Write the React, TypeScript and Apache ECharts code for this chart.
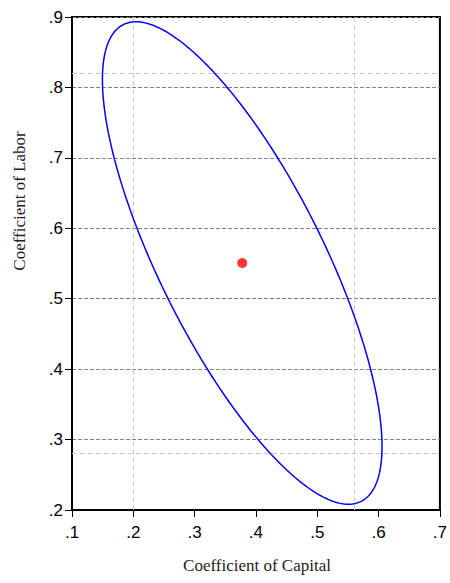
import React, { useEffect, useRef } from "react";
import * as echarts from "echarts";

// Estimated coefficients (Capital, Labor)
const pointEstimate: [number, number] = [0.3776, 0.5507];
// Joint confidence ellipse: half-extents along each axis and correlation
const ellipseHalfExtent: [number, number] = [0.228, 0.3425];
const ellipseCorrelation = -0.76;
// Individual confidence intervals
const capitalInterval = [0.199, 0.556];
const laborInterval = [0.281, 0.82];
// Axes
const xTicks = [0.1, 0.2, 0.3, 0.4, 0.5, 0.6, 0.7];
const yTicks = [0.2, 0.3, 0.4, 0.5, 0.6, 0.7, 0.8, 0.9];

function ellipsePoints(): [number, number][] {
  const pts: [number, number][] = [];
  const n = 360;
  const s = Math.sqrt(1 - ellipseCorrelation * ellipseCorrelation);
  for (let i = 0; i <= n; i++) {
    const t = (2 * Math.PI * i) / n;
    const x = pointEstimate[0] + ellipseHalfExtent[0] * Math.cos(t);
    const y =
      pointEstimate[1] +
      ellipseHalfExtent[1] * (ellipseCorrelation * Math.cos(t) + s * Math.sin(t));
    pts.push([x, y]);
  }
  return pts;
}

const fmt = (v: number) => v.toFixed(1).replace(/^0/, "");

export default function App() {
  const ref = useRef<HTMLDivElement>(null);
  useEffect(() => {
    if (!ref.current) return;
    const chart = echarts.init(ref.current, null, { renderer: "svg" });
    const tickFont = { fontFamily: "Liberation Sans", fontSize: 17, color: "#000" };
    chart.setOption({
      animation: false,
      backgroundColor: "#fff",
      grid: {
        left: 72,
        right: 8,
        top: 17,
        bottom: 73,
        show: true,
        borderColor: "#000",
        borderWidth: 2,
        backgroundColor: "transparent",
      },
      xAxis: {
        type: "value",
        min: xTicks[0],
        max: xTicks[xTicks.length - 1],
        interval: 0.1,
        axisLine: { show: true, lineStyle: { color: "#000", width: 2 } },
        axisTick: { show: true, inside: false, length: 7, lineStyle: { color: "#000", width: 1 } },
        axisLabel: { ...tickFont, margin: 14, formatter: fmt },
        splitLine: { show: false },
      },
      yAxis: {
        type: "value",
        min: yTicks[0],
        max: yTicks[yTicks.length - 1],
        interval: 0.1,
        axisLine: { show: true, lineStyle: { color: "#000", width: 2 } },
        axisTick: { show: true, inside: false, length: 7, lineStyle: { color: "#000", width: 1 } },
        axisLabel: { ...tickFont, margin: 9, formatter: fmt },
        splitLine: {
          show: true,
          lineStyle: { color: "#808080", type: [4, 2], width: 1 },
        },
      },
      graphic: [
        {
          type: "text",
          x: 257,
          y: 565,
          style: {
            text: "Coefficient of Capital",
            font: "17px 'Liberation Serif'",
            fill: "#222",
            textAlign: "center",
            textVerticalAlign: "middle",
          },
        },
        {
          type: "text",
          x: 19,
          y: 201,
          rotation: Math.PI / 2,
          style: {
            text: "Coefficient of Labor",
            font: "17px 'Liberation Serif'",
            fill: "#222",
            textAlign: "center",
            textVerticalAlign: "middle",
          },
        },
      ],
      series: [
        {
          type: "scatter",
          data: [],
          z: 1,
          markLine: {
            silent: true,
            z: 1,
            symbol: "none",
            label: { show: false },
            emphasis: { disabled: true },
            lineStyle: { color: "#c8c8c8", type: [5, 3], width: 1 },
            data: [
              { xAxis: capitalInterval[0] },
              { xAxis: capitalInterval[1] },
              { yAxis: laborInterval[0] },
              { yAxis: laborInterval[1] },
            ],
          },
        },
        {
          type: "line",
          data: ellipsePoints(),
          showSymbol: false,
          smooth: false,
          lineStyle: { color: "#0000ff", width: 1.5 },
          z: 3,
        },
        {
          type: "scatter",
          data: [pointEstimate],
          symbol: "circle",
          symbolSize: 10,
          itemStyle: { color: "#ff0000" },
          z: 4,
        },
      ],
    });
    return () => chart.dispose();
  }, []);
  return (
    <div
      ref={ref}
      style={{ position: "absolute", left: 0, top: 0, width: 450, height: 583 }}
    />
  );
}
